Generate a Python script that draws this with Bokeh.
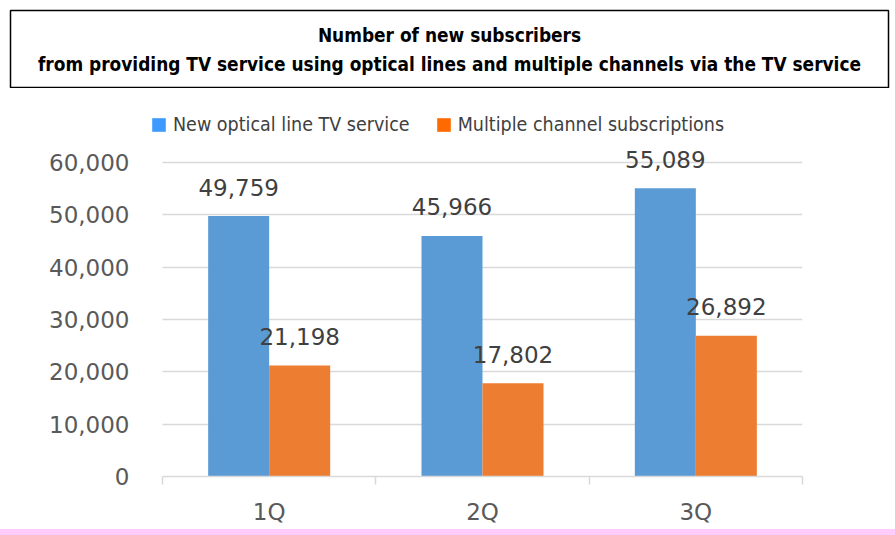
from bokeh.plotting import figure
from bokeh.models import (ColumnDataSource, FixedTicker, NumeralTickFormatter,
                          Legend, LegendItem, Range1d, Div)
from bokeh.layouts import column
from bokeh.embed import file_html
from bokeh.resources import INLINE
from bokeh.core.properties import value

# ---- data ----
quarters = ["1Q", "2Q", "3Q"]
optical_tv = [49759, 45966, 55089]
multi_channel = [21198, 17802, 26892]
series_names = ["New optical line TV service", "Multiple channel subscriptions"]
title_lines = ["Number of new subscribers",
               "from providing TV service using optical lines and multiple channels via the TV service"]
y_ticks = [0, 10000, 20000, 30000, 40000, 50000, 60000]

NARROW = "DejaVu Sans Condensed"
NUMF = "DejaVu Sans"

# ---- title box ----
t = figure(width=895, height=88, x_range=Range1d(0, 1), y_range=Range1d(0, 1),
           x_axis_type=None, y_axis_type=None,
           output_backend="svg", toolbar_location=None,
           min_border_left=10, min_border_top=10, min_border_right=7, min_border_bottom=1)
t.frame_align = False
t.outline_line_color = "black"
t.outline_line_width = 1.5
t.grid.visible = False
t.text(x=[0.5, 0.5], y=[0.68, 0.31], text=title_lines,
       text_align="center", text_baseline="middle",
       text_font=value(NARROW), text_font_style="bold",
       text_font_size="18.9px", text_color="black")

# ---- chart ----
n = len(quarters)
centers = [i + 0.5 for i in range(n)]
off = 0.143
bw = 0.286
src = ColumnDataSource(dict(
    xa=[c - off for c in centers], xb=[c + off for c in centers],
    a=optical_tv, b=multi_channel,
    la=[f"{v:,}" for v in optical_tv], lb=[f"{v:,}" for v in multi_channel]))

# frame starts a little left of the category area so the legend swatch fits inside it
p = figure(width=895, height=441, x_range=Range1d(-0.05625, n), y_range=Range1d(0, 71847),
           output_backend="svg", toolbar_location=None,
           min_border_left=150, min_border_right=93, min_border_top=12, min_border_bottom=53)
p.frame_align = False
p.outline_line_color = None

p.vbar(x="xa", top="a", width=bw, source=src, fill_color="#5b9bd5", line_color=None)
p.vbar(x="xb", top="b", width=bw, source=src, fill_color="#ed7d31", line_color=None)

for xcol, ycol, lcol in (("xa", "a", "la"), ("xb", "b", "lb")):
    p.text(x=xcol, y=ycol, text=lcol, source=src, y_offset=-29,
           text_align="center", text_baseline="middle",
           text_font=value(NUMF), text_font_size="23px", text_color="#404040")

# y axis
p.yaxis.ticker = FixedTicker(ticks=y_ticks)
p.yaxis.formatter = NumeralTickFormatter(format="0,0")
p.yaxis.axis_line_color = None
p.yaxis.major_tick_line_color = None
p.yaxis.minor_tick_line_color = None
p.yaxis.major_tick_out = 0
p.yaxis.major_tick_in = 0
p.yaxis.major_label_standoff = 21
p.yaxis.major_label_text_font = NUMF
p.yaxis.major_label_text_font_size = "23px"
p.yaxis.major_label_text_color = "#595959"
yg = p.ygrid[0]
yg.ticker = FixedTicker(ticks=y_ticks)
yg.grid_line_color = "#d9d9d9"
yg.grid_line_width = 1.5
if "cross_bounds" in yg.properties():
    yg.cross_bounds = (0, n)
p.xgrid.visible = False

# x axis
p.xaxis.ticker = FixedTicker(ticks=centers, minor_ticks=list(range(n + 1)))
p.xaxis.bounds = (0, n)
p.xaxis.major_label_overrides = {c: q for c, q in zip(centers, quarters)}
p.xaxis.axis_line_color = "#d9d9d9"
p.xaxis.axis_line_width = 1.5
p.xaxis.major_tick_line_color = None
p.xaxis.major_tick_out = 0
p.xaxis.major_tick_in = 0
p.xaxis.minor_tick_line_color = "#d9d9d9"
p.xaxis.minor_tick_line_width = 1.5
p.xaxis.minor_tick_out = 8
p.xaxis.minor_tick_in = 0
p.xaxis.major_label_standoff = 14
p.xaxis.major_label_text_font = NUMF
p.xaxis.major_label_text_font_size = "23px"
p.xaxis.major_label_text_color = "#595959"

# legend swatches: zero-width proxies of the bar series in the legend's brighter colours
r1 = p.vbar(x="xa", top="a", width=0, source=src, fill_color="#3d9bff", line_color=None)
r2 = p.vbar(x="xb", top="b", width=0, source=src, fill_color="#ff6a00", line_color=None)
legend = Legend(items=[LegendItem(label=series_names[0], renderers=[r1]),
                       LegendItem(label=series_names[1], renderers=[r2])],
                location=(0, 340), orientation="horizontal",
                padding=0, margin=0, spacing=25,
                glyph_width=17, glyph_height=17, label_standoff=6,
                label_text_font=NARROW, label_text_font_size="19.5px",
                label_text_color="#404040", label_height=20,
                background_fill_alpha=0, border_line_color=None)
p.add_layout(legend)

# ---- pink strip at the bottom ----
strip = Div(text="", width=895, height=6,
            styles={"background-color": "#fdccfc", "margin": "0", "padding": "0"})

layout = column(t, p, strip)
open("out.html", "w").write(file_html(layout, INLINE))
